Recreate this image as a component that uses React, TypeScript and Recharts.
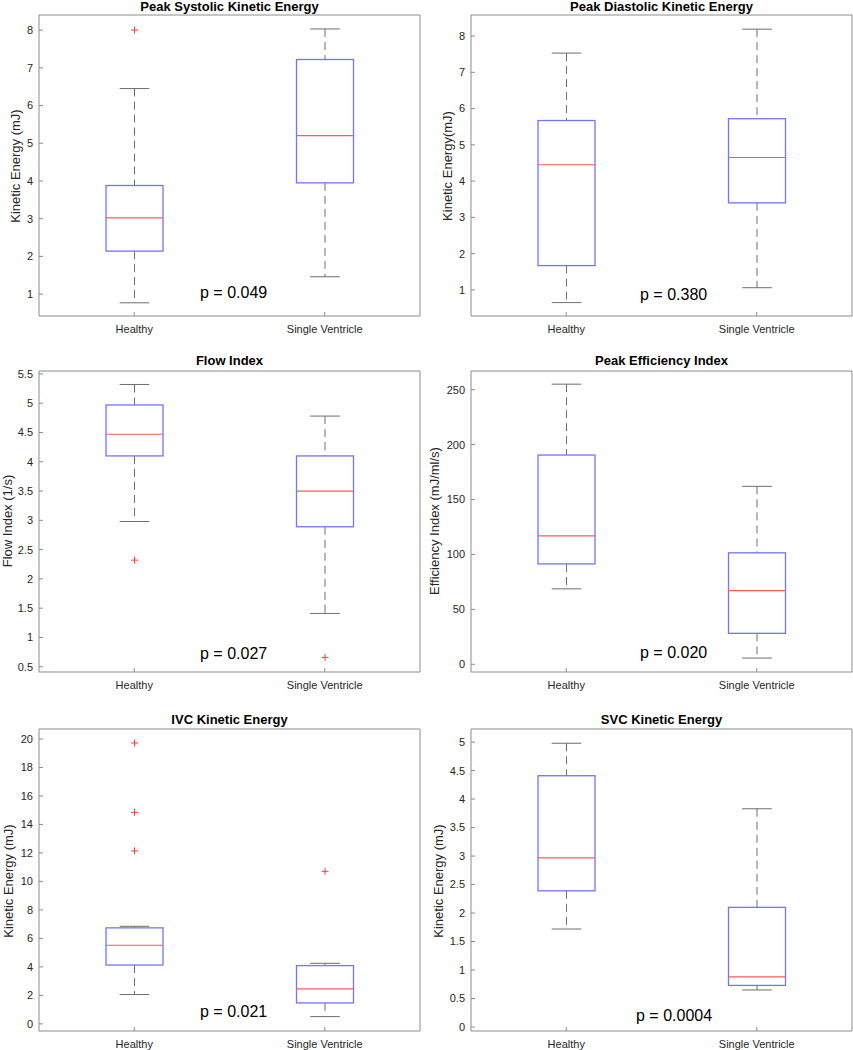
import { Bar, ComposedChart, XAxis, YAxis } from "recharts";

const categories = ["Healthy", "Single Ventricle"];

// Peak systolic kinetic energy (mJ)
const psLower = [0.77, 1.46];
const psQ1 = [2.14, 3.95];
const psMedian = [3.02, 5.2];
const psQ3 = [3.88, 7.22];
const psUpper = [6.45, 8.03];
const psOutliers = [[8.0], []];
const psTicks = [1, 2, 3, 4, 5, 6, 7, 8];

// Peak diastolic kinetic energy (mJ)
const pdLower = [0.65, 1.06];
const pdQ1 = [1.67, 3.4];
const pdMedian = [4.45, 4.65];
const pdQ3 = [5.67, 5.72];
const pdUpper = [7.53, 8.19];
const pdOutliers = [[], []];
const pdTicks = [1, 2, 3, 4, 5, 6, 7, 8];

// Flow index (1/s)
const fiLower = [2.98, 1.41];
const fiQ1 = [4.1, 2.89];
const fiMedian = [4.47, 3.5];
const fiQ3 = [4.97, 4.1];
const fiUpper = [5.32, 4.78];
const fiOutliers = [[2.32], [0.66]];
const fiTicks = [0.5, 1, 1.5, 2, 2.5, 3, 3.5, 4, 4.5, 5, 5.5];

// Peak efficiency index (mJ/ml/s)
const eiLower = [68.7, 5.7];
const eiQ1 = [91.4, 28.2];
const eiMedian = [117, 67];
const eiQ3 = [190.5, 101.5];
const eiUpper = [255, 162];
const eiOutliers = [[], []];
const eiTicks = [0, 50, 100, 150, 200, 250];

// IVC kinetic energy (mJ)
const ivLower = [2.06, 0.51];
const ivQ1 = [4.13, 1.47];
const ivMedian = [5.52, 2.46];
const ivQ3 = [6.74, 4.09];
const ivUpper = [6.85, 4.25];
const ivOutliers = [[19.72, 14.85, 12.14], [10.71]];
const ivTicks = [0, 2, 4, 6, 8, 10, 12, 14, 16, 18, 20];

// SVC kinetic energy (mJ)
const svLower = [1.72, 0.65];
const svQ1 = [2.39, 0.73];
const svMedian = [2.97, 0.88];
const svQ3 = [4.41, 2.1];
const svUpper = [4.98, 3.83];
const svOutliers = [[], []];
const svTicks = [0, 0.5, 1, 1.5, 2, 2.5, 3, 3.5, 4, 4.5, 5];

const AXIS = "#8c8c8c";
const TEXT = "#262626";
const BOX = "#7373ff";
const MEDIAN = "#ff5a5a";
const WHISKER = "#6e6e6e";
const FONT = '"Liberation Sans", Arial, sans-serif';

type Row = {
  name: string;
  lower: number;
  q1: number;
  median: number;
  q3: number;
  upper: number;
  outliers: number[];
  range: [number, number];
};

function makeRows(
  lower: number[],
  q1: number[],
  median: number[],
  q3: number[],
  upper: number[],
  outliers: number[][],
): Row[] {
  return categories.map((name, i) => {
    const all = [lower[i], upper[i], ...outliers[i]];
    return {
      name,
      lower: lower[i],
      q1: q1[i],
      median: median[i],
      q3: q3[i],
      upper: upper[i],
      outliers: outliers[i],
      range: [Math.min(...all), Math.max(...all)],
    };
  });
}

// one bar spans the full range of a group; the box plot is drawn inside it
function BoxShape(props: any) {
  const { x, y, width, height, payload } = props;
  const row = payload as Row;
  const top = Math.min(y, y + height);
  const bottom = Math.max(y, y + height);
  const [lo, hi] = row.range;
  const py = (v: number) => top + ((hi - v) / (hi - lo)) * (bottom - top);
  const cx = x + width / 2;
  const cap = width * 0.26;
  return (
    <g>
      <line x1={cx} x2={cx} y1={py(row.upper)} y2={py(row.q3)} stroke={WHISKER} strokeDasharray="8 5" />
      <line x1={cx} x2={cx} y1={py(row.q1)} y2={py(row.lower)} stroke={WHISKER} strokeDasharray="8 5" />
      <line x1={cx - cap} x2={cx + cap} y1={py(row.upper)} y2={py(row.upper)} stroke={WHISKER} />
      <line x1={cx - cap} x2={cx + cap} y1={py(row.lower)} y2={py(row.lower)} stroke={WHISKER} />
      <rect
        x={x}
        y={py(row.q3)}
        width={width}
        height={py(row.q1) - py(row.q3)}
        fill="none"
        stroke={BOX}
        strokeWidth={1.3}
      />
      <line x1={x} x2={x + width} y1={py(row.median)} y2={py(row.median)} stroke={MEDIAN} strokeWidth={1.2} />
      {row.outliers.map((o, k) => (
        <g key={k} stroke="#ff3b3b" strokeWidth={1}>
          <line x1={cx - 3.5} x2={cx + 3.5} y1={py(o)} y2={py(o)} />
          <line x1={cx} x2={cx} y1={py(o) - 3.5} y2={py(o) + 3.5} />
        </g>
      ))}
    </g>
  );
}

type Panel = {
  title: string;
  ylabel: string;
  pText: string;
  rows: Row[];
  domain: [number, number];
  ticks: number[];
  left: number;
  top: number;
  width: number;
  height: number;
  margin: { top: number; right: number; left: number; bottom: number };
  titleY: number;
  labelX: number;
  labelY: number;
  pX: number;
  pY: number;
};

const leftCol = { left: 0, width: 425, ml: 9, mr: 5 };
const rightCol = { left: 425, width: 428, ml: 16, mr: 1 };

const panels: Panel[] = [
  {
    title: "Peak Systolic Kinetic Energy",
    ylabel: "Kinetic Energy (mJ)",
    pText: "p = 0.049",
    rows: makeRows(psLower, psQ1, psMedian, psQ3, psUpper, psOutliers),
    domain: [0.42, 8.4],
    ticks: psTicks,
    left: leftCol.left,
    top: 0,
    width: leftCol.width,
    height: 336,
    margin: { top: 15, right: leftCol.mr, left: leftCol.ml, bottom: 0 },
    titleY: 7,
    labelX: 16,
    labelY: 166,
    pX: 200,
    pY: 293,
  },
  {
    title: "Peak Diastolic Kinetic Energy",
    ylabel: "Kinetic Energy(mJ)",
    pText: "p = 0.380",
    rows: makeRows(pdLower, pdQ1, pdMedian, pdQ3, pdUpper, pdOutliers),
    domain: [0.28, 8.58],
    ticks: pdTicks,
    left: rightCol.left,
    top: 0,
    width: rightCol.width,
    height: 336,
    margin: { top: 15, right: rightCol.mr, left: rightCol.ml, bottom: 0 },
    titleY: 7,
    labelX: 448,
    labelY: 166,
    pX: 640,
    pY: 295,
  },
  {
    title: "Flow Index",
    ylabel: "Flow Index (1/s)",
    pText: "p = 0.027",
    rows: makeRows(fiLower, fiQ1, fiMedian, fiQ3, fiUpper, fiOutliers),
    domain: [0.41, 5.55],
    ticks: fiTicks,
    left: leftCol.left,
    top: 345,
    width: leftCol.width,
    height: 347,
    margin: { top: 26, right: leftCol.mr, left: leftCol.ml, bottom: 0 },
    titleY: 360.5,
    labelX: 8,
    labelY: 521,
    pX: 200,
    pY: 654,
  },
  {
    title: "Peak Efficiency Index",
    ylabel: "Efficiency Index (mJ/ml/s)",
    pText: "p = 0.020",
    rows: makeRows(eiLower, eiQ1, eiMedian, eiQ3, eiUpper, eiOutliers),
    domain: [-7, 267],
    ticks: eiTicks,
    left: rightCol.left,
    top: 345,
    width: rightCol.width,
    height: 347,
    margin: { top: 26, right: rightCol.mr, left: rightCol.ml, bottom: 0 },
    titleY: 360.5,
    labelX: 435,
    labelY: 521,
    pX: 640,
    pY: 653,
  },
  {
    title: "IVC Kinetic Energy",
    ylabel: "Kinetic Energy (mJ)",
    pText: "p = 0.021",
    rows: makeRows(ivLower, ivQ1, ivMedian, ivQ3, ivUpper, ivOutliers),
    domain: [-0.5, 20.7],
    ticks: ivTicks,
    left: leftCol.left,
    top: 700,
    width: leftCol.width,
    height: 351,
    margin: { top: 29, right: leftCol.mr, left: leftCol.ml, bottom: 0 },
    titleY: 719.5,
    labelX: 9,
    labelY: 881,
    pX: 200,
    pY: 1012,
  },
  {
    title: "SVC Kinetic Energy",
    ylabel: "Kinetic Energy (mJ)",
    pText: "p = 0.0004",
    rows: makeRows(svLower, svQ1, svMedian, svQ3, svUpper, svOutliers),
    domain: [-0.07, 5.23],
    ticks: svTicks,
    left: rightCol.left,
    top: 700,
    width: rightCol.width,
    height: 351,
    margin: { top: 29, right: rightCol.mr, left: rightCol.ml, bottom: 0 },
    titleY: 719.5,
    labelX: 438.5,
    labelY: 881,
    pX: 636,
    pY: 1016,
  },
];

function BoxPanel({ p }: { p: Panel }) {
  const plotX = p.left + p.margin.left + 30;
  const plotW = p.width - p.margin.left - p.margin.right - 30;
  return (
    <>
      <div style={{ position: "absolute", left: p.left, top: p.top }}>
        <ComposedChart width={p.width} height={p.height} data={p.rows} margin={p.margin}>
          <XAxis
            dataKey="name"
            type="category"
            height={20}
            interval={0}
            tickSize={-4}
            tickMargin={13}
            stroke={AXIS}
            tick={{ fontSize: 11, fill: TEXT }}
          />
          <XAxis
            xAxisId="top"
            orientation="top"
            type="number"
            domain={[0.5, 2.5]}
            ticks={[1, 2]}
            mirror
            tick={false}
            tickSize={4}
            stroke={AXIS}
          />
          <YAxis
            type="number"
            width={30}
            domain={p.domain}
            ticks={p.ticks}
            allowDataOverflow
            interval={0}
            tickSize={-4}
            tickMargin={10}
            stroke={AXIS}
            tick={{ fontSize: 11, fill: TEXT }}
            tickFormatter={(v) => String(v)}
          />
          <YAxis
            yAxisId="right"
            orientation="right"
            type="number"
            domain={p.domain}
            ticks={p.ticks}
            allowDataOverflow
            interval={0}
            mirror
            tick={false}
            tickSize={4}
            stroke={AXIS}
          />
          <Bar dataKey="range" barSize={57} shape={BoxShape} isAnimationActive={false} />
        </ComposedChart>
      </div>
      <div
        style={{
          position: "absolute",
          left: plotX,
          width: plotW,
          top: p.titleY - 8,
          height: 16,
          lineHeight: "16px",
          textAlign: "center",
          fontSize: 13,
          fontWeight: "bold",
          color: "#000",
          whiteSpace: "nowrap",
        }}
      >
        {p.title}
      </div>
      <div
        style={{
          position: "absolute",
          left: p.labelX - 150,
          top: p.labelY - 8,
          width: 300,
          height: 16,
          lineHeight: "16px",
          textAlign: "center",
          fontSize: 13,
          color: TEXT,
          transform: "rotate(-90deg)",
          whiteSpace: "nowrap",
        }}
      >
        {p.ylabel}
      </div>
      <div
        style={{
          position: "absolute",
          left: p.pX,
          top: p.pY - 10,
          height: 20,
          lineHeight: "20px",
          fontSize: 16,
          color: "#000",
          whiteSpace: "nowrap",
        }}
      >
        {p.pText}
      </div>
    </>
  );
}

export default function App() {
  return (
    <div
      style={{
        position: "absolute",
        left: 0,
        top: 0,
        width: 853,
        height: 1050,
        overflow: "hidden",
        background: "#fff",
        fontFamily: FONT,
      }}
    >
      {panels.map((p) => (
        <BoxPanel key={p.title} p={p} />
      ))}
    </div>
  );
}
